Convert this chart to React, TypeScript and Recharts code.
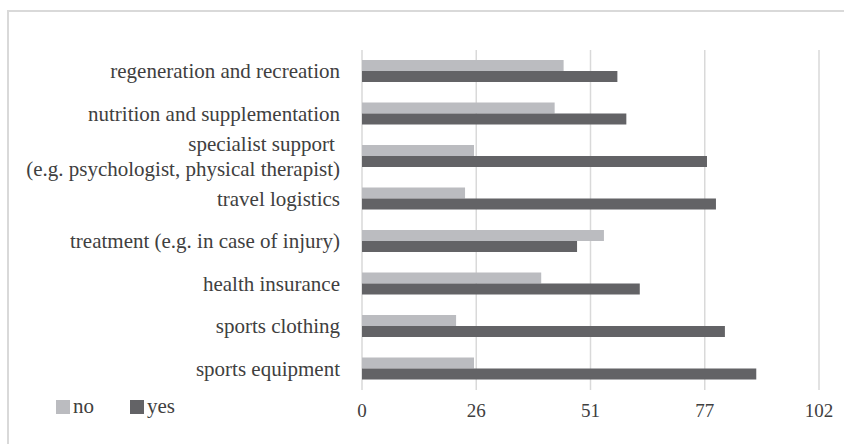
import React from "react";
import { BarChart, Bar, XAxis, YAxis, CartesianGrid, Legend } from "recharts";

const categories = [
  "regeneration and recreation",
  "nutrition and supplementation",
  "specialist support \n(e.g. psychologist, physical therapist)",
  "travel logistics",
  "treatment (e.g. in case of injury)",
  "health insurance",
  "sports clothing",
  "sports equipment",
];
const noValues = [45, 43, 25, 23, 54, 40, 21, 25];
const yesValues = [57, 59, 77, 79, 48, 62, 81, 88];
const xTicks = [0, 25.5, 51, 76.5, 102];
const seriesNames = ["no", "yes"];
const seriesColors = ["#BBBCC0", "#636366"];

const data = categories.map((c, i) => ({ cat: c, no: noValues[i], yes: yesValues[i] }));

const FONT = "'Liberation Serif', 'Times New Roman', serif";
const TEXT = "#404040";

const CatTick = (props: any) => {
  const { x, y, payload } = props;
  const lines = String(payload.value).split("\n");
  const lh = 25;
  const start = -((lines.length - 1) * lh) / 2;
  return (
    <text
      x={x}
      y={y}
      textAnchor="end"
      fill={TEXT}
      fontSize={21}
      fontFamily={FONT}
      style={{ whiteSpace: "pre" }}
    >
      {lines.map((l, i) => (
        <tspan key={i} x={x} y={y + start + i * lh} dy="0.34em">
          {l}
        </tspan>
      ))}
    </text>
  );
};

const LegendContent = () => (
  <div style={{ display: "flex", fontFamily: FONT, fontSize: 21, color: TEXT, lineHeight: "21px" }}>
    {seriesNames.map((n, i) => (
      <div key={n} style={{ display: "flex", alignItems: "center", marginRight: i === 0 ? 36 : 0 }}>
        <span style={{ display: "inline-block", width: 14, height: 14, background: seriesColors[i], marginRight: 3 }} />
        <span>{n}</span>
      </div>
    ))}
  </div>
);

export default function App() {
  return (
    <div style={{ position: "fixed", left: 0, top: 0, width: 844, height: 444, overflow: "hidden", background: "#fff" }}>
      <div
        style={{
          position: "absolute",
          left: 7,
          top: 10,
          width: 900,
          height: 500,
          borderTop: "2px solid #d9d9d9",
          borderLeft: "2px solid #d9d9d9",
          boxSizing: "border-box",
        }}
      />
      <div style={{ position: "absolute", left: 0, top: 0 }}>
        <BarChart
          width={844}
          height={444}
          data={data}
          layout="vertical"
          margin={{ top: 50, right: 25, bottom: 0, left: 0 }}
          barGap={0}
          barSize={11}
        >
          <CartesianGrid horizontal={false} stroke="#d9d9d9" strokeWidth={1.5} />
          <XAxis
            type="number"
            domain={[0, 102]}
            ticks={xTicks}
            tickFormatter={(v: number) => String(Math.round(v))}
            axisLine={false}
            tickLine={false}
            tickSize={0}
            tickMargin={14}
            height={54}
            interval={0}
            tick={{ fill: TEXT, fontSize: 19, fontFamily: FONT }}
          />
          <YAxis
            type="category"
            dataKey="cat"
            width={362}
            axisLine={false}
            tickLine={false}
            tickSize={0}
            tickMargin={22}
            interval={0}
            tick={<CatTick />}
          />
          <Legend
            layout="horizontal"
            verticalAlign="middle"
            align="center"
            wrapperStyle={{ top: 396, left: 56, bottom: "auto", right: "auto", width: 200 }}
            content={<LegendContent />}
          />
          <Bar dataKey="no" name="no" fill={seriesColors[0]} isAnimationActive={false} />
          <Bar dataKey="yes" name="yes" fill={seriesColors[1]} isAnimationActive={false} />
        </BarChart>
      </div>
    </div>
  );
}
